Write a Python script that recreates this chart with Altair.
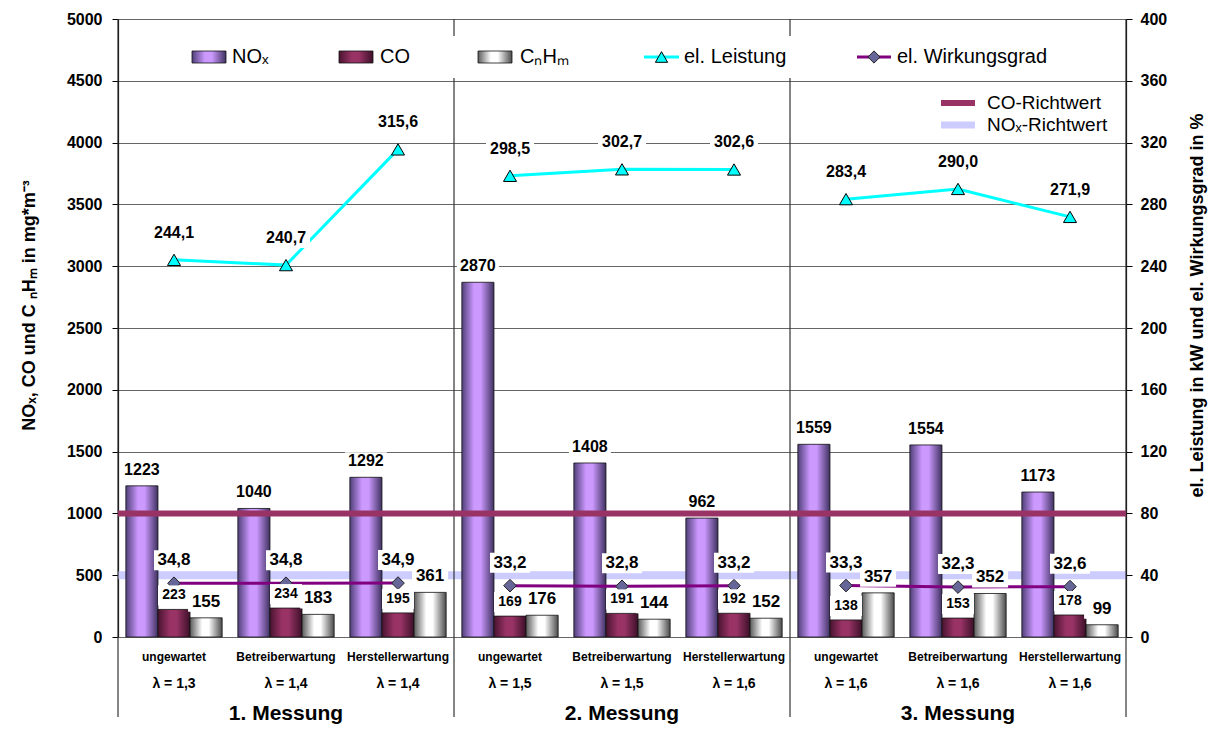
import altair as alt
import pandas as pd

# ---------------- data ----------------
categories = ["ungewartet", "Betreiberwartung", "Herstellerwartung",
              "ungewartet", "Betreiberwartung", "Herstellerwartung",
              "ungewartet", "Betreiberwartung", "Herstellerwartung"]
lambdas = ["λ = 1,3", "λ = 1,4", "λ = 1,4",
           "λ = 1,5", "λ = 1,5", "λ = 1,6",
           "λ = 1,6", "λ = 1,6", "λ = 1,6"]
groups = ["1. Messung", "2. Messung", "3. Messung"]
nox = [1223, 1040, 1292, 2870, 1408, 962, 1559, 1554, 1173]
co = [223, 234, 195, 169, 191, 192, 138, 153, 178]
cnhm = [155, 183, 361, 176, 144, 152, 357, 352, 99]
leistung = [244.1, 240.7, 315.6, 298.5, 302.7, 302.6, 283.4, 290.0, 271.9]
wirkungsgrad = [34.8, 34.8, 34.9, 33.2, 32.8, 33.2, 33.3, 32.3, 32.6]
co_richtwert = [1000]
nox_richtwert = [500]

n = len(categories)
df = pd.DataFrame({
    "idx": list(range(n)),
    "cat": categories,
    "lam": lambdas,
    "grp": [groups[i // 3] for i in range(n)],
    "nox": nox, "co": co, "cnhm": cnhm,
    "leist": leistung, "wirk": wirkungsgrad,
})
df_groups = pd.DataFrame({"gi": list(range(len(groups))), "grp": groups})
df_bounds = pd.DataFrame({"b": [0, 3, 6, 9]})

# ---------------- style ----------------
FONT = "Liberation Sans, Arial, Helvetica, sans-serif"
W, H = 1008, 618

xs = alt.Scale(domain=[0, n], nice=False, zero=False)
yL = alt.Scale(domain=[0, 5000], nice=False)
yR = alt.Scale(domain=[0, 400], nice=False)


def grad(dark_l, light, dark_r):
    return alt.LinearGradient(
        gradient="linear", x1=0, y1=0, x2=1, y2=0,
        stops=[alt.GradientStop(offset=0, color=dark_l),
               alt.GradientStop(offset=0.38, color=light),
               alt.GradientStop(offset=0.58, color=light),
               alt.GradientStop(offset=1, color=dark_r)])


G_NOX = grad("#4f3f78", "#cc99ff", "#3f3260")
G_CO = grad("#4a1430", "#993366", "#3d1028")
G_CH = grad("#5a5a5a", "#ffffff", "#4a4a4a")

x_axis = alt.Axis(values=list(range(n + 1)), labels=False, ticks=True, tickSize=55,
                  tickColor="#000", domainColor="#000", domainWidth=1.2, grid=False, title=None)
left_axis = alt.Axis(values=list(range(0, 5001, 500)), format="d", grid=True, gridColor="#666",
                     gridWidth=1.2, tickSize=6, tickColor="#000", domainColor="#000", domainWidth=1.2,
                     labelFont=FONT, labelFontSize=16, labelFontWeight="bold", labelColor="#000",
                     labelPadding=10,
                     title="NOₓ, CO und C ₙHₘ in mg*m⁻³", titleFont=FONT, titleFontSize=18,
                     titleFontWeight="bold", titleColor="#000", titleAngle=270,
                     titleX=-80, titleY=286)
right_axis = alt.Axis(values=list(range(0, 401, 40)), orient="right", grid=False,
                      tickSize=6, tickColor="#000", domainColor="#000", domainWidth=1.2,
                      labelFont=FONT, labelFontSize=16, labelFontWeight="bold", labelColor="#000",
                      labelPadding=8,
                      title="el. Leistung in kW und el. Wirkungsgrad in %", titleFont=FONT,
                      titleFontSize=18, titleFontWeight="bold", titleColor="#000",
                      titleAngle=270, titleX=80, titleY=286)

base = alt.Chart(df)

# NOx-Richtwert behind bars
nox_rw = alt.Chart(pd.DataFrame({"v": nox_richtwert})).mark_rule(
    color="#ccccff", strokeWidth=8).encode(y=alt.Y("v:Q", scale=yL, axis=None))


def bars(field, a, b, fill, first=False):
    return base.transform_calculate(
        xa=f"datum.idx + {a}", xb=f"datum.idx + {b}"
    ).mark_rect(fill=fill, stroke="#111", strokeWidth=0.8).encode(
        x=alt.X("xa:Q", scale=xs, axis=x_axis if first else None),
        x2="xb:Q",
        y=alt.Y(f"{field}:Q", scale=yL, axis=left_axis if first else None),
        y2=alt.datum(0),
    )


b_nox = bars("nox", 0.07, 0.357, G_NOX, first=True)
b_co = bars("co", 0.357, 0.643, G_CO)
b_ch = bars("cnhm", 0.643, 0.93, G_CH)

co_rw = alt.Chart(pd.DataFrame({"v": co_richtwert})).mark_rule(
    color="#993366", strokeWidth=6).encode(y=alt.Y("v:Q", scale=yL, axis=None))

# group separators (plot + table)
seps = alt.Chart(df_bounds).mark_rule(color="#333", strokeWidth=1.2).encode(
    x=alt.X("b:Q", scale=xs, axis=None), y=alt.value(0), y2=alt.value(H + 80))


def label_box(field, scale, xoff, half_w, dy, h=20):
    return base.transform_calculate(xc=f"datum.idx + {xoff}").mark_rect(
        fill="#fff", xOffset=-half_w, x2Offset=half_w,
        yOffset=dy - h / 2, y2Offset=dy + h / 2).encode(
        x=alt.X("xc:Q", scale=xs, axis=None), x2="xc:Q",
        y=alt.Y(f"{field}:Q", scale=scale, axis=None), y2=f"{field}:Q")


def bar_label(field, xoff, size, dy):
    return base.transform_calculate(xc=f"datum.idx + {xoff}").mark_text(
        font=FONT, fontSize=size, fontWeight="bold", color="#000", dy=dy, baseline="middle"
    ).encode(x=alt.X("xc:Q", scale=xs, axis=None),
             y=alt.Y(f"{field}:Q", scale=yL, axis=None),
             text=alt.Text(f"{field}:Q", format="d"))


X_NOX, X_CO, X_CH = 0.2135, 0.5, 0.7865
l_nox = bar_label("nox", X_NOX, 16, -16)
l_co = bar_label("co", X_CO, 14, -14)
l_ch = bar_label("cnhm", X_CH, 17, -16)
bx_nox = label_box("nox", yL, X_NOX, 21, -16, 18)
bx_co = label_box("co", yL, X_CO, 16, -14)
bx_ch = label_box("cnhm", yL, X_CH, 18, -16)

lines_base = base.transform_calculate(xc="datum.idx + 0.5")

leist_line = lines_base.mark_line(color="#00ffff", strokeWidth=3).encode(
    x=alt.X("xc:Q", scale=xs, axis=None),
    y=alt.Y("leist:Q", scale=yR, axis=right_axis),
    detail="grp:N")
leist_pts = lines_base.mark_point(shape="triangle-up", filled=True, fill="#00ffff", stroke="#000",
                                  strokeWidth=1, size=170, opacity=1).encode(
    x=alt.X("xc:Q", scale=xs, axis=None), y=alt.Y("leist:Q", scale=yR, axis=None))
leist_lab = lines_base.transform_calculate(
    lab="replace(format(datum.leist, '.1f'), '.', ',')").mark_text(
    font=FONT, fontSize=16, fontWeight="bold", color="#000", dy=-27, baseline="middle").encode(
    x=alt.X("xc:Q", scale=xs, axis=None), y=alt.Y("leist:Q", scale=yR, axis=None), text="lab:N")
bx_leist = label_box("leist", yR, 0.5, 24, -27)

wirk_line = lines_base.mark_line(color="#800080", strokeWidth=3).encode(
    x=alt.X("xc:Q", scale=xs, axis=None), y=alt.Y("wirk:Q", scale=yR, axis=None), detail="grp:N")
wirk_pts = lines_base.mark_point(shape="diamond", filled=True, fill="#666699", stroke="#222",
                                 strokeWidth=1, size=160, opacity=1).encode(
    x=alt.X("xc:Q", scale=xs, axis=None), y=alt.Y("wirk:Q", scale=yR, axis=None))
wirk_lab = lines_base.transform_calculate(
    lab="replace(format(datum.wirk, '.1f'), '.', ',')").mark_text(
    font=FONT, fontSize=17, fontWeight="bold", color="#000", dy=-23, baseline="middle").encode(
    x=alt.X("xc:Q", scale=xs, axis=None), y=alt.Y("wirk:Q", scale=yR, axis=None), text="lab:N")
bx_wirk = label_box("wirk", yR, 0.5, 20, -23)

# bottom table text
cat_txt = lines_base.mark_text(font=FONT, fontSize=12, fontWeight="bold", color="#000",
                               baseline="middle").encode(
    x=alt.X("xc:Q", scale=xs, axis=None), y=alt.value(H + 20), text="cat:N")
lam_txt = lines_base.mark_text(font=FONT, fontSize=14, fontWeight="bold", color="#000",
                               baseline="middle").encode(
    x=alt.X("xc:Q", scale=xs, axis=None), y=alt.value(H + 47), text="lam:N")
grp_txt = alt.Chart(df_groups).transform_calculate(gc="datum.gi * 3 + 1.5").mark_text(
    font=FONT, fontSize=21, fontWeight="bold", color="#000", baseline="middle").encode(
    x=alt.X("gc:Q", scale=xs, axis=None), y=alt.value(H + 77), text="grp:N")

# ---------------- legends (drawn) ----------------
one = alt.Chart(pd.DataFrame({"k": [0]}))
LY = 38
leg_box = one.mark_rect(fill="#fff").encode(
    x=alt.value(62), x2=alt.value(965), y=alt.value(17), y2=alt.value(59))


def swatch(x0, fill):
    return one.mark_rect(fill=fill, stroke="#111", strokeWidth=0.8).encode(
        x=alt.value(x0), x2=alt.value(x0 + 34), y=alt.value(LY - 6), y2=alt.value(LY + 6))


def ltext(x0, txt, y=LY, size=20):
    return one.mark_text(font=FONT, fontSize=size, color="#000", align="left",
                         baseline="middle", text=txt).encode(x=alt.value(x0), y=alt.value(y))


leg_items = [
    leg_box,
    swatch(74, G_NOX), ltext(114, "NOₓ"),
    swatch(221, G_CO), ltext(262, "CO"),
    swatch(360, G_CH), ltext(402, "CₙHₘ"),
    one.mark_rule(color="#00ffff", strokeWidth=3).encode(
        x=alt.value(526), x2=alt.value(561), y=alt.value(LY)),
    one.mark_point(shape="triangle-up", filled=True, fill="#00ffff", stroke="#000",
                   strokeWidth=1, size=150, opacity=1).encode(x=alt.value(543.5), y=alt.value(LY)),
    ltext(566, "el. Leistung"),
    one.mark_rule(color="#800080", strokeWidth=3).encode(
        x=alt.value(739), x2=alt.value(773), y=alt.value(LY)),
    one.mark_point(shape="diamond", filled=True, fill="#666699", stroke="#222",
                   strokeWidth=1, size=150, opacity=1).encode(x=alt.value(756), y=alt.value(LY)),
    ltext(779, "el. Wirkungsgrad"),
    one.mark_rule(color="#993366", strokeWidth=6).encode(
        x=alt.value(823), x2=alt.value(857), y=alt.value(84)),
    ltext(869, "CO-Richtwert", 84, 19),
    one.mark_rule(color="#ccccff", strokeWidth=7).encode(
        x=alt.value(823), x2=alt.value(857), y=alt.value(106)),
    ltext(869, "NOₓ-Richtwert", 106, 19),
]

chart = alt.layer(
    nox_rw, b_nox, b_co, b_ch, seps,
    leist_line, leist_pts, wirk_line, wirk_pts,
    bx_nox, bx_co, bx_ch, bx_leist, bx_wirk, co_rw,
    l_nox, l_co, l_ch, leist_lab, wirk_lab,
    cat_txt, lam_txt, grp_txt,
    *leg_items,
).resolve_scale(y="independent").properties(
    width=W, height=H,
    autosize=alt.AutoSizeParams(type="none"),
    padding={"left": 110, "top": 11, "right": 84, "bottom": 91},
).configure_view(stroke=None).configure(font=FONT)

chart.save("out.html", embed_options={"renderer": "svg", "actions": False})
